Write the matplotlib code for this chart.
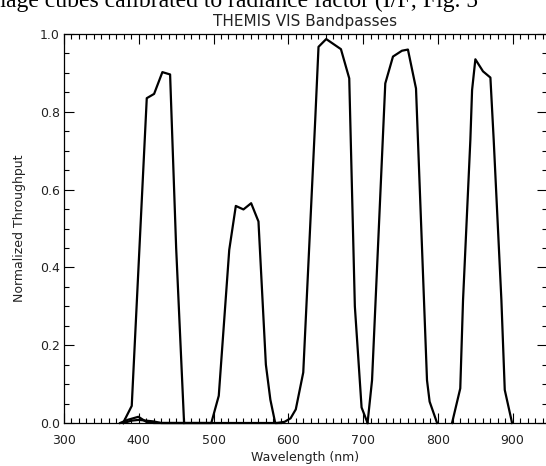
import matplotlib

matplotlib.use("Agg")
import matplotlib.pyplot as plt
from matplotlib.ticker import MultipleLocator, FormatStrFormatter

# THEMIS VIS filter bandpasses (wavelength nm, normalized throughput)
band1_wl = [379, 390.6, 410.7, 420.5, 431.6, 441.9, 450, 460.6]
band1_tp = [0.0, 0.044, 0.835, 0.846, 0.902, 0.896, 0.45, 0.0]

band2_wl = [375, 385, 399.5, 410, 420, 497, 507, 521, 529.8, 540, 550.3, 560.1, 570, 576, 582.5, 590]
band2_tp = [0.0, 0.008, 0.016, 0.003, 0.0, 0.0, 0.07, 0.445, 0.558, 0.549, 0.565, 0.518, 0.15, 0.06, 0.0, 0.0]

band3_wl = [380, 390, 400, 420, 430, 585, 595, 603, 610, 620, 636, 640.4, 650.7, 670.4, 681.5, 689, 698, 706]
band3_tp = [0.0, 0.006, 0.008, 0.004, 0.0, 0.0, 0.003, 0.012, 0.035, 0.13, 0.779, 0.967, 0.987, 0.961, 0.886, 0.30, 0.04, 0.0]

band4_wl = [706, 712, 729.7, 740, 752, 760, 770.8, 785.5, 789, 799]
band4_tp = [0.0, 0.11, 0.873, 0.942, 0.957, 0.96, 0.86, 0.11, 0.055, 0.0]

band5_wl = [819, 830, 833.7, 843.5, 845.8, 850.2, 860.4, 870.3, 874.7, 885, 889.5, 899.3]
band5_tp = [0.0, 0.089, 0.316, 0.728, 0.856, 0.935, 0.904, 0.888, 0.728, 0.316, 0.085, 0.0]

bands = [
    (band1_wl, band1_tp),
    (band2_wl, band2_tp),
    (band3_wl, band3_tp),
    (band4_wl, band4_tp),
    (band5_wl, band5_tp),
]

fig = plt.figure(figsize=(5.46, 4.66), dpi=100, facecolor="white")
ax = fig.add_axes([64 / 546, 43 / 466, (547 - 64) / 546, (423 - 34) / 466])

for wl, tp in bands:
    ax.plot(wl, tp, color="black", linewidth=1.6, clip_on=False)

ax.set_xlim(300, 946)
ax.set_ylim(0, 1.0)
ax.xaxis.set_major_locator(MultipleLocator(100))
ax.xaxis.set_minor_locator(MultipleLocator(10))
ax.yaxis.set_major_locator(MultipleLocator(0.2))
ax.yaxis.set_minor_locator(MultipleLocator(0.05))
ax.yaxis.set_major_formatter(FormatStrFormatter("%.1f"))
ax.tick_params(which="both", direction="in", top=True, right=True, labelsize=9,
               labelcolor="#222222", color="black", width=0.8)
ax.tick_params(axis="x", pad=8)
ax.tick_params(axis="y", pad=3)
ax.tick_params(which="major", length=7)
ax.tick_params(which="minor", length=3.5)
for spine in ax.spines.values():
    spine.set_linewidth(0.9)

ax.set_xlabel("Wavelength (nm)", fontsize=9, color="#222222", labelpad=3)
ax.set_ylabel("Normalized Throughput", fontsize=9, color="#222222", labelpad=10)
ax.set_title("THEMIS VIS Bandpasses", fontsize=11, color="#222222", pad=6)

# cropped caption line at the very top of the source image
fig.text(-0.035, 1 - 7 / 466, "image cubes calibrated to radiance factor (I/F; Fig. 5",
         family="Liberation Serif", fontsize=17, va="baseline", ha="left", color="black")

fig.savefig("out.png", dpi=100, facecolor="white")
